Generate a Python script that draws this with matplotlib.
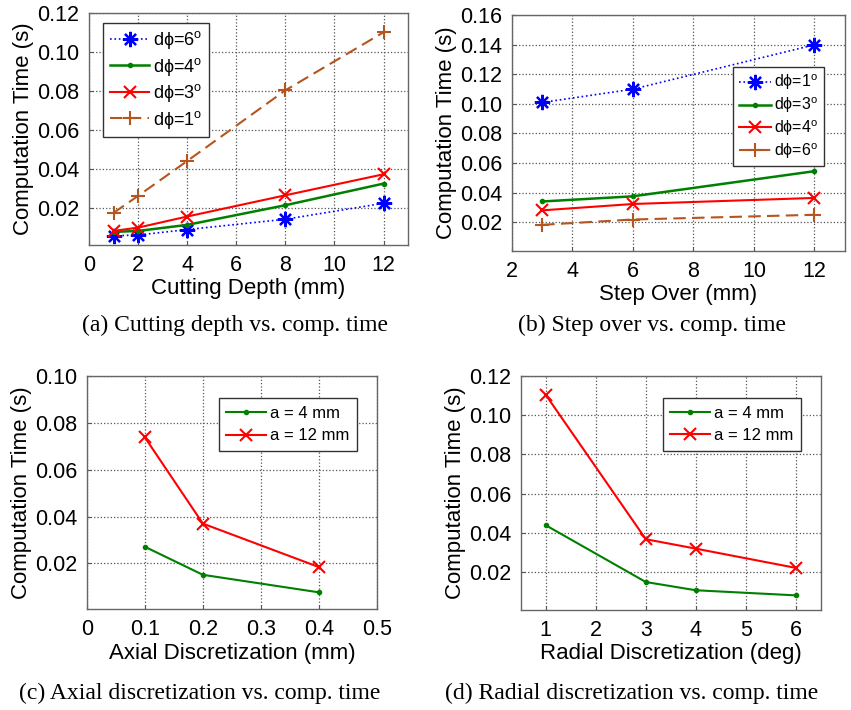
import matplotlib.pyplot as plt
import numpy as np

plt.rcParams['font.family'] = ['Liberation Sans', 'DejaVu Sans']
plt.rcParams['mathtext.fontset'] = 'custom'
plt.rcParams['mathtext.rm'] = 'Liberation Sans'
plt.rcParams['mathtext.it'] = 'Liberation Sans:italic'

# (a) cutting depth vs computation time
depth = [1, 2, 4, 8, 12]
depth_d6 = [0.0055, 0.0059, 0.0087, 0.0140, 0.0222]
depth_d4 = [0.0075, 0.0080, 0.0111, 0.0212, 0.0323]
depth_d3 = [0.0080, 0.0097, 0.0154, 0.0263, 0.0371]
depth_d1 = [0.0173, 0.0260, 0.0439, 0.0802, 0.1100]

# (b) step over vs computation time
step = [3, 6, 12]
step_d1 = [0.101, 0.110, 0.140]
step_d3 = [0.034, 0.0375, 0.0545]
step_d4 = [0.028, 0.0323, 0.0364]
step_d6 = [0.0182, 0.0218, 0.025]

# (c) axial discretization
axial = [0.1, 0.2, 0.4]
axial_a4 = [0.0271, 0.0151, 0.0076]
axial_a12 = [0.0739, 0.0370, 0.0184]

# (d) radial discretization
radial = [1, 3, 4, 6]
radial_a4 = [0.0439, 0.0150, 0.0108, 0.0082]
radial_a12 = [0.1103, 0.0368, 0.0320, 0.0222]

BLUE = '#0000ff'
GREEN = '#008000'
RED = '#ff0000'
BROWN = '#b5551f'
ASTERISK = (8, 2, 0)

fig = plt.figure(figsize=(8.51, 7.10), dpi=100)


def style(ax, xlim, ylim, xticks, yticks, xlabel):
    ax.set_xlim(*xlim)
    ax.set_ylim(*ylim)
    ax.set_xticks(xticks)
    ax.set_yticks(yticks)
    ax.set_yticklabels(['%.2f' % v for v in yticks])
    ax.set_xticklabels([('%g' % v) for v in xticks])
    ax.grid(True, linestyle=':', color='#555555', linewidth=0.9)
    ax.tick_params(direction='in', length=3, labelsize=15.5, color='#555555', pad=7)
    for s in ax.spines.values():
        s.set_color('#666666')
        s.set_linewidth(1.0)
    ax.set_xlabel(xlabel, fontsize=16, labelpad=2)
    ax.set_ylabel('Computation Time (s)', fontsize=16, labelpad=2)


def dphi(n):
    return 'd\u03d5=%d$^{\\rm o}$' % n


def legend(ax, anchor, loc, size, hl, spacing, pad=0.35):
    ax.legend(loc=loc, bbox_to_anchor=anchor, fontsize=size, handlelength=hl,
              labelspacing=spacing, fancybox=False, edgecolor='#333333',
              framealpha=1, borderpad=pad, handletextpad=0.2, borderaxespad=0)


# (a)
ax = fig.add_axes([0.1046, 0.655, 0.375, 0.327])
ax.plot(depth, depth_d6, ':', color=BLUE, marker=ASTERISK, ms=11, mew=1.6, lw=1.2, label=dphi(6))
ax.plot(depth, depth_d4, '-', color=GREEN, marker='.', ms=6, lw=1.8, label=dphi(4))
ax.plot(depth, depth_d3, '-', color=RED, marker='x', ms=8, lw=1.5, mew=1.5, label=dphi(3))
ax.plot(depth, depth_d1, '--', color=BROWN, marker='+', ms=10, lw=1.5, mew=1.5,
        dashes=(6, 3), label=dphi(1))
style(ax, (0, 13), (0.0008, 0.12), [0, 2, 4, 6, 8, 10, 12],
      [0.02, 0.04, 0.06, 0.08, 0.10, 0.12], 'Cutting Depth (mm)')
legend(ax, (0.045, 0.957), 'upper left', 13, 2.2, 0.25)

# (b)
ax = fig.add_axes([0.6016, 0.6465, 0.391, 0.332])
ax.plot(step, step_d1, ':', color=BLUE, marker=ASTERISK, ms=11, mew=1.6, lw=1.2, label=dphi(1))
ax.plot(step, step_d3, '-', color=GREEN, marker='.', ms=6, lw=1.8, label=dphi(3))
ax.plot(step, step_d4, '-', color=RED, marker='x', ms=8, lw=1.5, mew=1.5, label=dphi(4))
ax.plot(step, step_d6, '--', color=BROWN, marker='+', ms=10, lw=1.5, mew=1.5,
        dashes=(6, 3), label=dphi(6))
style(ax, (2, 13), (0.0005, 0.16), [2, 4, 6, 8, 10, 12],
      [0.02, 0.04, 0.06, 0.08, 0.10, 0.12, 0.14, 0.16], 'Step Over (mm)')
legend(ax, (0.937, 0.78), 'upper right', 11.5, 2.0, 0.2)

# (c)
ax = fig.add_axes([0.102, 0.142, 0.341, 0.328])
ax.plot(axial, axial_a4, '-', color=GREEN, marker='.', ms=6, lw=1.5, label='a = 4 mm')
ax.plot(axial, axial_a12, '-', color=RED, marker='x', ms=9, lw=1.5, mew=1.5, label='a = 12 mm')
style(ax, (0, 0.5), (0.0004, 0.10), [0, 0.1, 0.2, 0.3, 0.4, 0.5],
      [0.02, 0.04, 0.06, 0.08, 0.10], 'Axial Discretization (mm)')
legend(ax, (0.93, 0.905), 'upper right', 12, 2.4, 0.45, 0.45)

# (d)
ax = fig.add_axes([0.612, 0.141, 0.3525, 0.3296])
ax.plot(radial, radial_a4, '-', color=GREEN, marker='.', ms=6, lw=1.5, label='a = 4 mm')
ax.plot(radial, radial_a12, '-', color=RED, marker='x', ms=9, lw=1.5, mew=1.5, label='a = 12 mm')
style(ax, (0.5, 6.5), (0.0008, 0.12), [1, 2, 3, 4, 5, 6],
      [0.02, 0.04, 0.06, 0.08, 0.10, 0.12], 'Radial Discretization (deg)')
legend(ax, (0.933, 0.905), 'upper right', 12, 2.4, 0.45, 0.45)

# captions
cap = dict(fontsize=17, family='Liberation Serif', ha='center', va='center')
fig.text(235 / 851, 1 - 325 / 710, '(a) Cutting depth vs. comp. time', **cap)
fig.text(652 / 851, 1 - 325 / 710, '(b) Step over vs. comp. time', **cap)
fig.text(200 / 851, 1 - 693 / 710, '(c) Axial discretization vs. comp. time', **cap)
fig.text(632 / 851, 1 - 693 / 710, '(d) Radial discretization vs. comp. time', **cap)

fig.savefig('out.png', dpi=100)
